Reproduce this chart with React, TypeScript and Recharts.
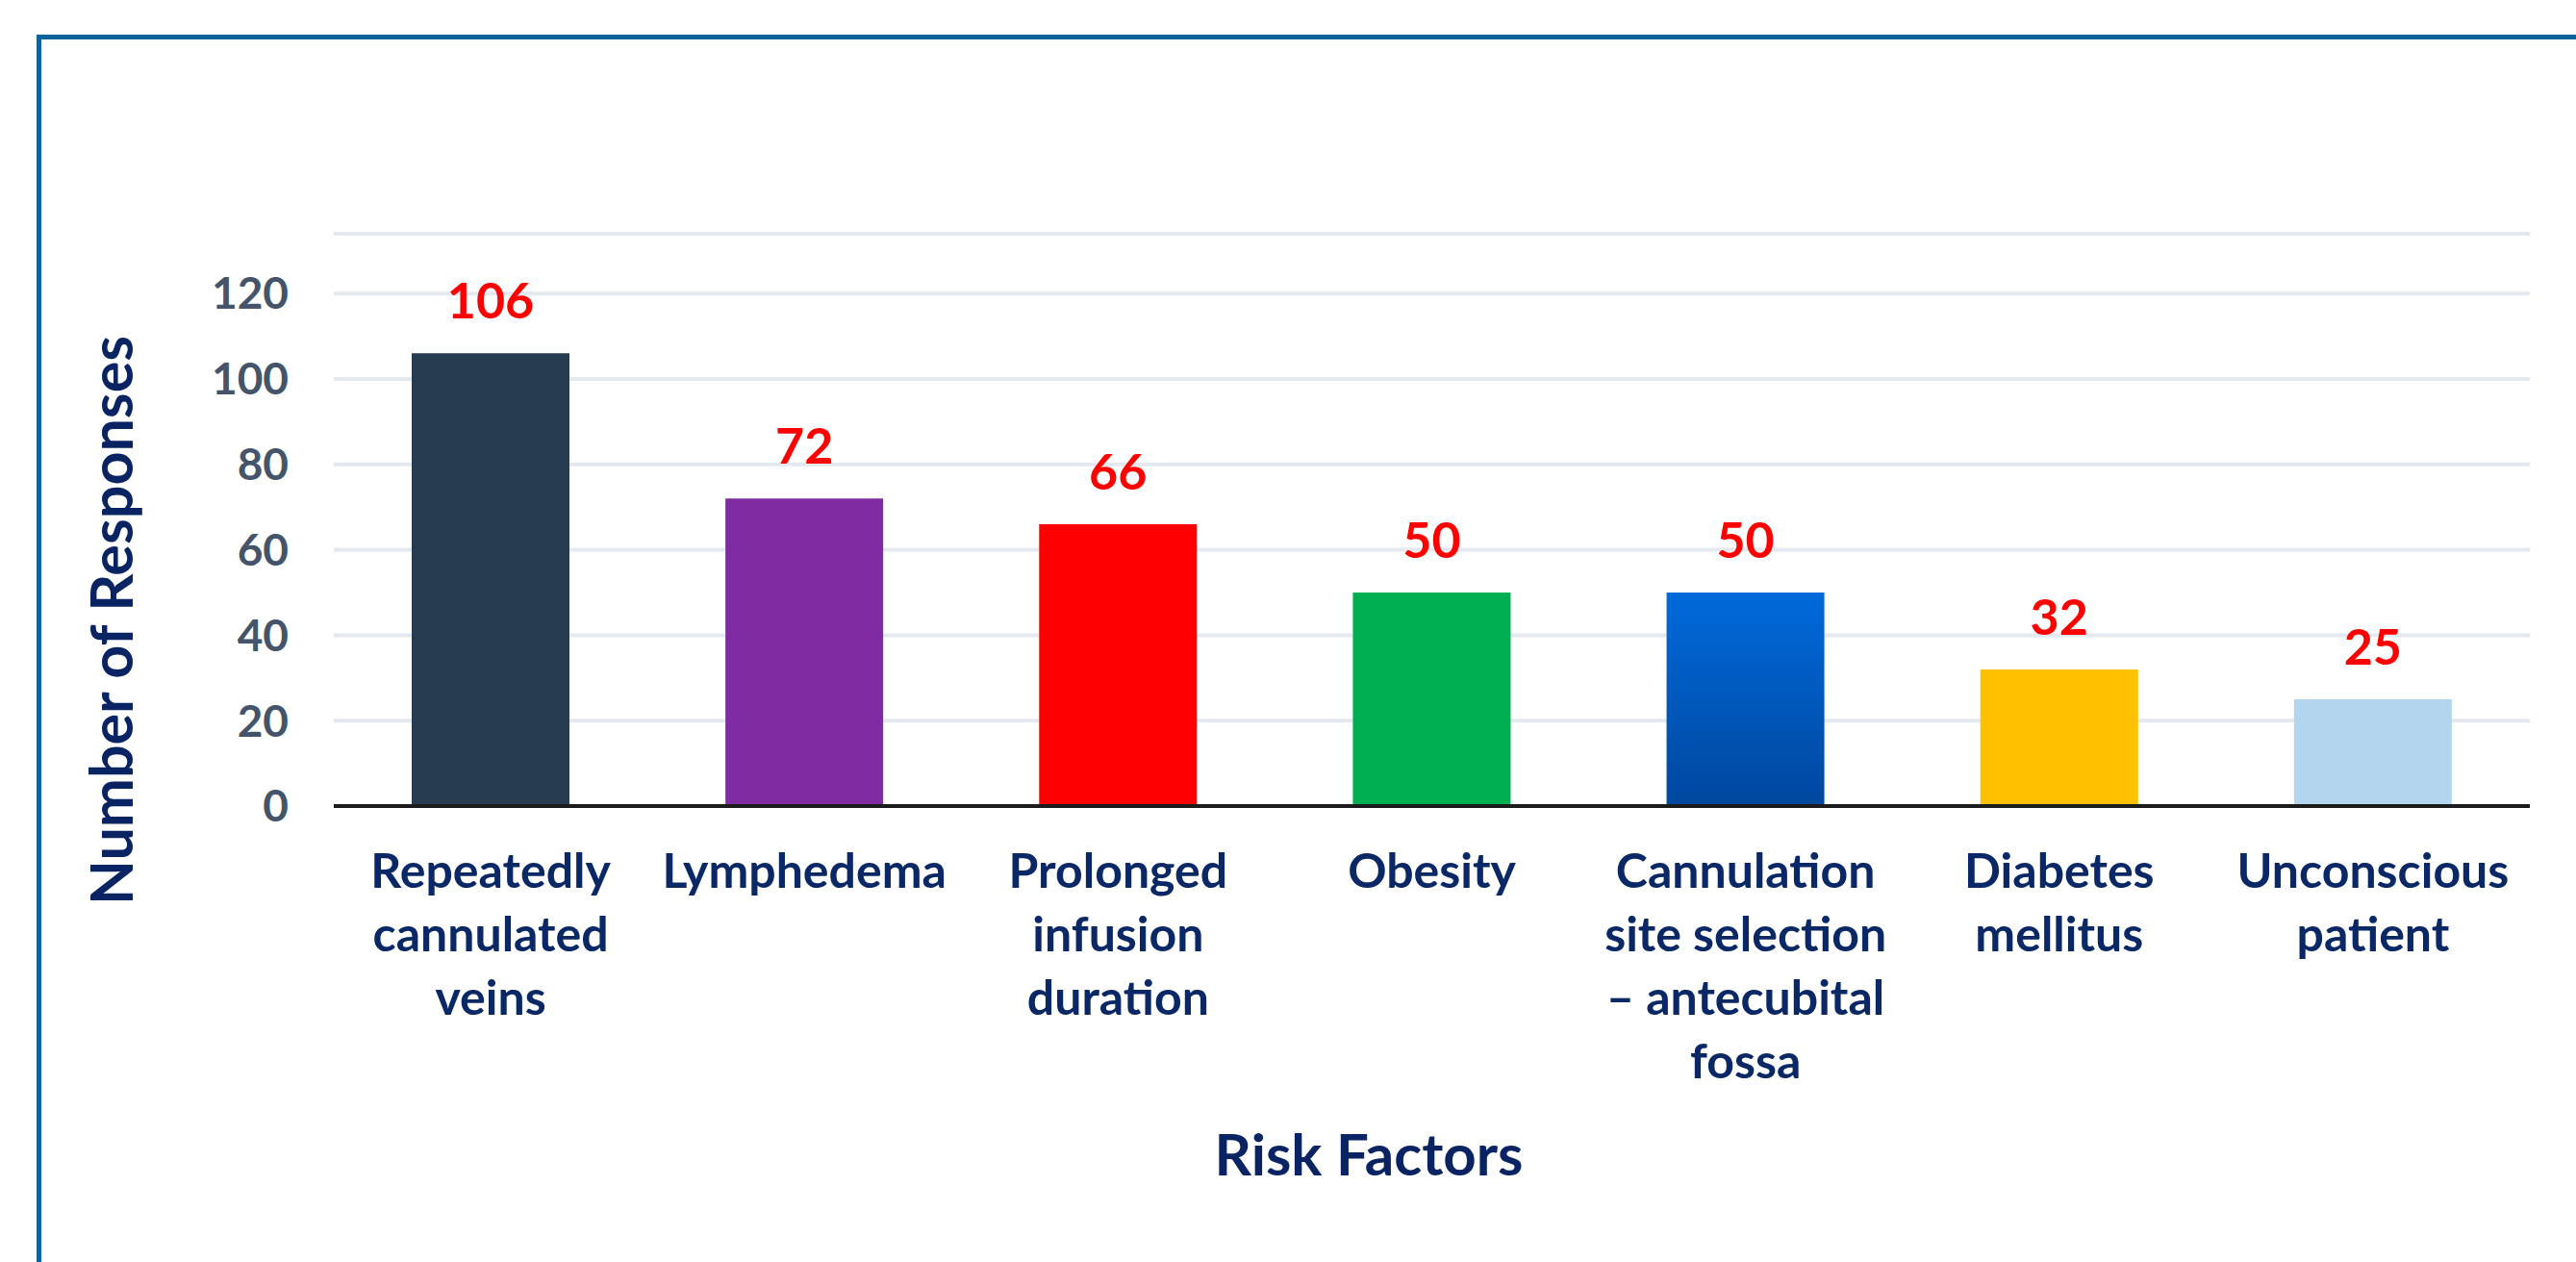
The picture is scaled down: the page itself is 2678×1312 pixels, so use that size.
import type { FC } from 'react'
import { Bar, BarChart, CartesianGrid, Cell, LabelList, ReferenceLine, XAxis, YAxis } from 'recharts'

const riskFactors = [
  'Repeatedly\ncannulated\nveins',
  'Lymphedema',
  'Prolonged\ninfusion\nduration',
  'Obesity',
  'Cannulation\nsite selection\n– antecubital\nfossa',
  'Diabetes\nmellitus',
  'Unconscious\npatient',
]
const responses = [106, 72, 66, 50, 50, 32, 25]
const yTicks = [0, 20, 40, 60, 80, 100, 120]
const yMax = 134

const BAR_COLORS = ['#283c51', '#7f2ca2', '#ff0000', '#00b050', 'url(#blueFade)', '#ffc000', '#b3d6ee']
const FONT = "Lato, 'Open Sans', sans-serif"
const NAVY = '#0b2866'

const data = riskFactors.map((name, i) => ({ name, value: responses[i] }))

interface TickProps {
  x?: number
  y?: number
  payload?: { value: string }
}

const CategoryTick: FC<TickProps> = ({ x = 0, y = 0, payload }) => {
  const lines = String(payload?.value ?? '').split('\n')
  return (
    <text x={x} y={y} textAnchor="middle" fill={NAVY} fontFamily={FONT} fontWeight={700} fontSize={50}>
      {lines.map((line, i) => (
        <tspan key={i} x={x} y={y + 85 + i * 66}>
          {line}
        </tspan>
      ))}
    </text>
  )
}

const YTitle: FC<{ viewBox?: any }> = () => (
  <text
    x={114}
    y={645}
    transform="rotate(-90 114 645)"
    textAnchor="middle"
    dominantBaseline="central"
    fill="#0a2463"
    fontFamily={FONT}
    fontWeight={700}
    fontSize={61}>
    Number of Responses
  </text>
)

const XTitle: FC<{ viewBox?: any }> = () => (
  <text x={1423} y={1222} textAnchor="middle" fill="#0a2463" fontFamily={FONT} fontWeight={700} fontSize={60}>
    Risk Factors
  </text>
)

const App: FC = () => (
  <div style={{ position: 'absolute', left: 0, top: 0, width: 2678, height: 1312, background: '#fff', overflow: 'hidden' }}>
    <div
      style={{
        position: 'absolute',
        left: 38,
        top: 36,
        width: 2700,
        height: 1400,
        borderTop: '5px solid #0e639b',
        borderLeft: '5px solid #0e639b',
      }}
    />
    <div style={{ position: 'absolute', left: 0, top: 0 }}>
      <BarChart width={2678} height={1312} data={data} margin={{ top: 243, right: 48, bottom: 4, left: 197 }}>
        <defs>
          <linearGradient id="blueFade" x1="0" y1="0" x2="0" y2="1">
            <stop offset="0%" stopColor="#006ada" />
            <stop offset="100%" stopColor="#00479e" />
          </linearGradient>
        </defs>
        <CartesianGrid vertical={false} stroke="#e3e9ef" strokeWidth={4} />
        <ReferenceLine y={yMax} stroke="#e3e9ef" strokeWidth={4} />
        <XAxis
          dataKey="name"
          height={470}
          interval={0}
          tickLine={false}
          tickSize={0}
          tickMargin={0}
          axisLine={{ stroke: '#1c1c1c', strokeWidth: 4 }}
          tick={<CategoryTick />}
          label={<XTitle />}
        />
        <YAxis
          width={150}
          domain={[0, yMax]}
          ticks={yTicks}
          interval={0}
          axisLine={false}
          tickLine={false}
          tickSize={0}
          tickMargin={47}
          tick={{ fill: '#44546a', fontFamily: FONT, fontWeight: 700, fontSize: 46 }}
          label={<YTitle />}
        />
        <Bar dataKey="value" barSize={164} isAnimationActive={false}>
          {data.map((entry, index) => (
            <Cell key={`cell-${entry.name}`} fill={BAR_COLORS[index]} />
          ))}
          <LabelList
            dataKey="value"
            position="top"
            offset={36}
            fill="#ff0000"
            fontFamily={FONT}
            fontWeight={700}
            fontSize={52}
          />
        </Bar>
      </BarChart>
    </div>
  </div>
)

export default App
